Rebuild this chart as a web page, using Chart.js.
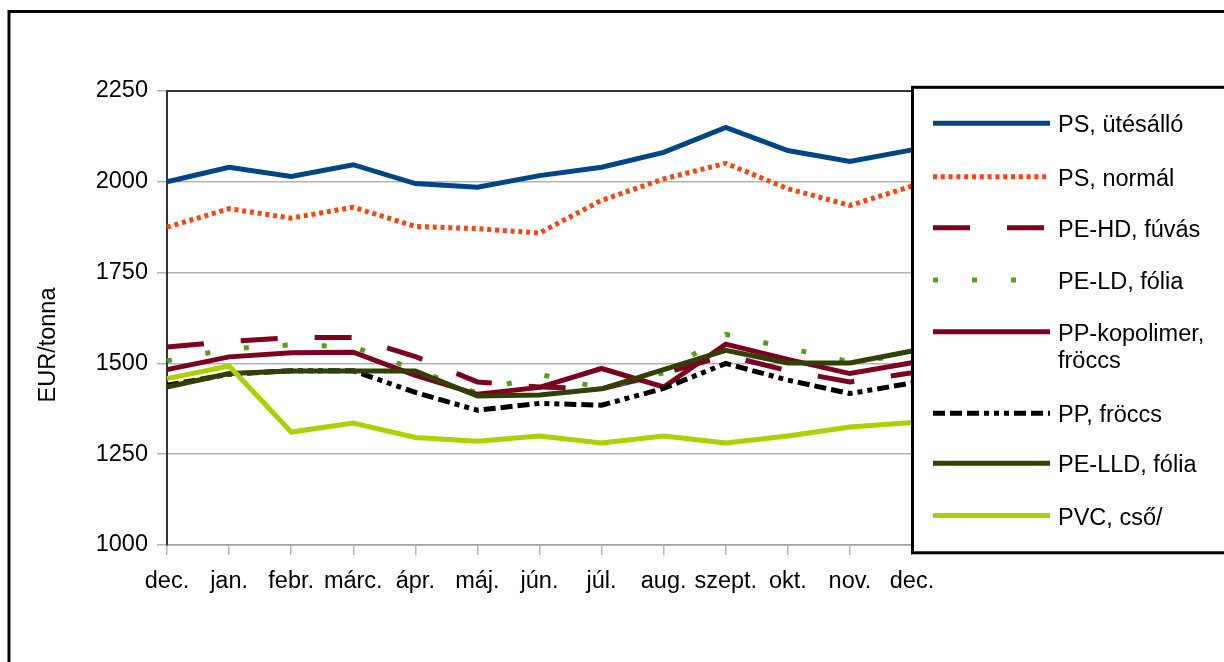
<!DOCTYPE html>
<html>
<head>
<meta charset="utf-8">
<script src="https://cdn.jsdelivr.net/npm/chart.js@4/dist/chart.umd.min.js"></script>
<style>
html,body{margin:0;padding:0;background:#fff;}
canvas{display:block;}
</style>
</head>
<body>
<canvas id="c" width="1224" height="662"></canvas>
<script>
// ---- data ----
const categories = ['dec.','jan.','febr.','márc.','ápr.','máj.','jún.','júl.','aug.','szept.','okt.','nov.','dec.'];
const seriesNames = [['PS, ütésálló'],['PS, normál'],['PE-HD, fúvás'],['PE-LD, fólia'],['PP-kopolimer,','fröccs'],['PP, fröccs'],['PE-LLD, fólia'],['PVC, cső/']];
const psUtesallo   = [2000, 2040, 2015, 2047, 1995, 1985, 2017, 2040, 2081, 2150, 2086, 2056, 2088];
const psNormal     = [1875, 1926, 1900, 1930, 1877, 1871, 1859, 1949, 2008, 2051, 1981, 1935, 1988];
const peHdFuvas    = [1545, 1560, 1571, 1571, 1519, 1449, 1435, 1430, 1472, 1522, 1480, 1449, 1474];
const peLdFolia    = [1507, 1540, 1551, 1546, 1483, 1418, 1470, 1432, 1474, 1580, 1543, 1504, 1525];
const ppKopolimer  = [1483, 1518, 1529, 1531, 1467, 1415, 1434, 1486, 1435, 1553, 1511, 1472, 1502];
const ppFroccs     = [1440, 1470, 1480, 1480, 1420, 1371, 1390, 1385, 1431, 1500, 1454, 1417, 1446];
const peLldFolia   = [1435, 1472, 1479, 1479, 1479, 1410, 1413, 1430, 1483, 1536, 1501, 1501, 1534];
const pvcCso       = [1458, 1493, 1311, 1336, 1296, 1286, 1300, 1281, 1300, 1281, 1300, 1325, 1337];
const yTicks = [1000, 1250, 1500, 1750, 2000, 2250];
const yTitle = 'EUR/tonna';

const seriesValues = [psUtesallo, psNormal, peHdFuvas, peLdFolia, ppKopolimer, ppFroccs, peLldFolia, pvcCso];

// ---- styles ----
const FONT = '"Liberation Sans", Arial, sans-serif';
const FS = 23.5;
const seriesStyles = [
  {color:'#004586', dash:[]},
  {color:'#ff420e', dash:[4,3.8]},
  {color:'#7e0021', dash:[37,37]},
  {color:'#579d1c', dash:[5,34]},
  {color:'#7e0021', dash:[]},
  {color:'#000000', dash:[12,5,12,5,12,5,5,5,5,5,5,5]},
  {color:'#314004', dash:[]},
  {color:'#aecf00', dash:[]}
];
const legendLineY = [123.3, 176.7, 227.7, 280, 331.7, 413.3, 463.3, 515.5];

Chart.defaults.font.family = FONT;
Chart.defaults.font.size = FS;
Chart.defaults.color = '#000';

const datasets = seriesValues.map((vals, i) => ({
  label: seriesNames[i].join(' '),
  data: vals,
  borderColor: seriesStyles[i].color,
  backgroundColor: seriesStyles[i].color,
  borderWidth: 5,
  borderDash: seriesStyles[i].dash,
  borderCapStyle: 'butt',
  borderJoinStyle: 'miter',
  pointRadius: 0,
  pointHoverRadius: 0,
  tension: 0,
  fill: false,
  order: seriesValues.length - i
}));

const overlay = {
  id: 'overlay',
  afterDraw(chart) {
    const ctx = chart.ctx, a = chart.chartArea;
    ctx.save();
    // top border of plot area
    ctx.strokeStyle = '#333';
    ctx.lineWidth = 2;
    ctx.beginPath();
    ctx.moveTo(a.left - 1, a.top);
    ctx.lineTo(a.right, a.top);
    ctx.stroke();

    // outer frame
    ctx.strokeStyle = '#000';
    ctx.lineWidth = 3;
    ctx.beginPath();
    ctx.moveTo(9, 670);
    ctx.lineTo(9, 11.5);
    ctx.lineTo(1240, 11.5);
    ctx.stroke();

    // y axis title
    ctx.save();
    ctx.fillStyle = '#000';
    ctx.font = FS + 'px ' + FONT;
    ctx.translate(49, 345);
    ctx.rotate(-Math.PI / 2);
    ctx.textAlign = 'center';
    ctx.textBaseline = 'middle';
    ctx.fillText(yTitle, 0, 0);
    ctx.restore();

    // legend box
    ctx.fillStyle = '#fff';
    ctx.fillRect(912, 87, 400, 466);
    ctx.strokeStyle = '#000';
    ctx.lineWidth = 3;
    ctx.strokeRect(912.5, 87.3, 400, 465.5);

    chart.data.datasets.forEach((ds, i) => {
      const y = legendLineY[i];
      ctx.strokeStyle = ds.borderColor;
      ctx.lineWidth = ds.borderWidth;
      ctx.lineCap = 'butt';
      ctx.setLineDash(ds.borderDash);
      ctx.beginPath();
      ctx.moveTo(933, y);
      ctx.lineTo(1050, y);
      ctx.stroke();
      ctx.setLineDash([]);
      ctx.fillStyle = '#000';
      ctx.font = FS + 'px ' + FONT;
      ctx.textAlign = 'left';
      ctx.textBaseline = 'alphabetic';
      const lines = seriesNames[i];
      lines.forEach((t, k) => {
        ctx.fillText(t, 1058, y + 9 + k * 27.5);
      });
    });
    ctx.restore();
  }
};

new Chart(document.getElementById('c'), {
  type: 'line',
  data: { labels: categories, datasets: datasets },
  options: {
    responsive: false,
    animation: false,
    devicePixelRatio: 1,
    layout: { padding: { left: 10, top: 91, right: 312, bottom: 0 } },
    plugins: { legend: { display: false }, tooltip: { enabled: false }, title: { display: false } },
    scales: {
      x: {
        type: 'category',
        offset: false,
        grid: { drawOnChartArea: false, drawTicks: true, tickLength: 10, color: '#b3b3b3', lineWidth: 1.5 },
        border: { display: true, color: '#a0a0a0', width: 1.5 },
        ticks: { padding: 12, maxRotation: 0, minRotation: 0, autoSkip: false, color: '#000', font: { size: FS } },
        afterFit: s => { s.height = 117; }
      },
      y: {
        min: yTicks[0],
        max: yTicks[yTicks.length - 1],
        afterBuildTicks: s => { s.ticks = yTicks.map(v => ({ value: v })); },
        grid: { color: '#b3b3b3', lineWidth: 1.5, tickLength: 10 },
        border: { display: true, color: '#333', width: 2 },
        ticks: { padding: 9, color: '#000', font: { size: FS }, callback: v => String(v) },
        afterFit: s => { s.width = 157; }
      }
    }
  },
  plugins: [overlay]
});
</script>
</body>
</html>
